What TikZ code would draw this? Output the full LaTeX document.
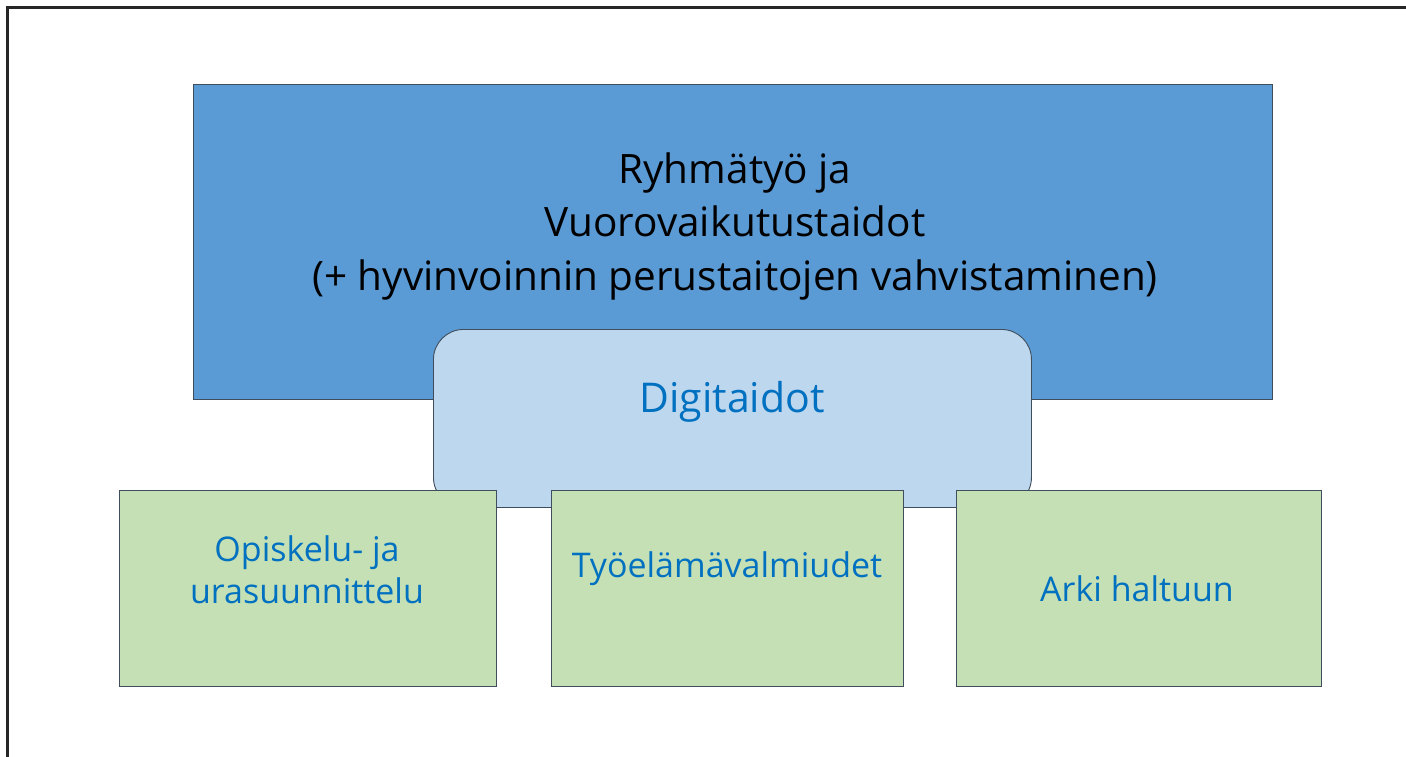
\documentclass[tikz,border=0pt]{standalone}
\usepackage{fontspec}
\setmainfont{Open Sans}
\definecolor{bigblue}{HTML}{5B9BD5}
\definecolor{lightblue}{HTML}{BDD7EE}
\definecolor{lightgreen}{HTML}{C5E0B4}
\definecolor{edge}{HTML}{3F4D5C}
\definecolor{txtblue}{HTML}{0070C0}
\tikzset{
  boxline/.style={draw=edge, line width=0.9pt},
  greenbox/.style={boxline, fill=lightgreen},
  greentext/.style={text=txtblue, font=\fontsize{34}{42}\selectfont, align=center, inner sep=0pt},
}
\begin{document}
\begin{tikzpicture}[x=1pt,y=-1pt]
\useasboundingbox (0,0) rectangle (1406,756);
\fill[white] (0,0) rectangle (1406,756);
% frame
\draw[line width=2.6pt, black!85] (7.5,760) coordinate (fa) -- (7.5,7.5) coordinate (fb) -- (1410,7.5) coordinate (fc);
% big blue
\node[boxline, fill=bigblue, minimum width=1079pt, minimum height=315pt, anchor=north west, inner sep=0pt] (big) at (193,84) {};
\node[font=\fontsize{40.5}{53.5}\selectfont, align=center, inner sep=0pt] (bigtext) at (735,226)
  {Ryhmätyö ja\\Vuorovaikutustaidot\\(+ hyvinvoinnin perustaitojen vahvistaminen)};
% digitaidot
\node[boxline, fill=lightblue, rounded corners=30pt, minimum width=598pt, minimum height=178pt, anchor=north west, inner sep=0pt] (digi) at (433,329) {};
\node[text=txtblue, font=\fontsize{41}{48}\selectfont, inner sep=0pt] (digitext) at (732,402) {Digitaidot};
% green boxes
\node[greenbox, minimum width=377pt, minimum height=196pt, anchor=north west, inner sep=0pt] (g1) at (119,490) {};
\node[greenbox, minimum width=352pt, minimum height=196pt, anchor=north west, inner sep=0pt] (g2) at (551,490) {};
\node[greenbox, minimum width=365pt, minimum height=196pt, anchor=north west, inner sep=0pt] (g3) at (956,490) {};
\node[greentext] (t1) at (307,570) {Opiskelu- ja\\urasuunnittelu};
\node[greentext] (t2) at (727,569) {Työelämävalmiudet};
\node[greentext] (t3) at (1137,589) {Arki haltuun};
\end{tikzpicture}
\end{document}
